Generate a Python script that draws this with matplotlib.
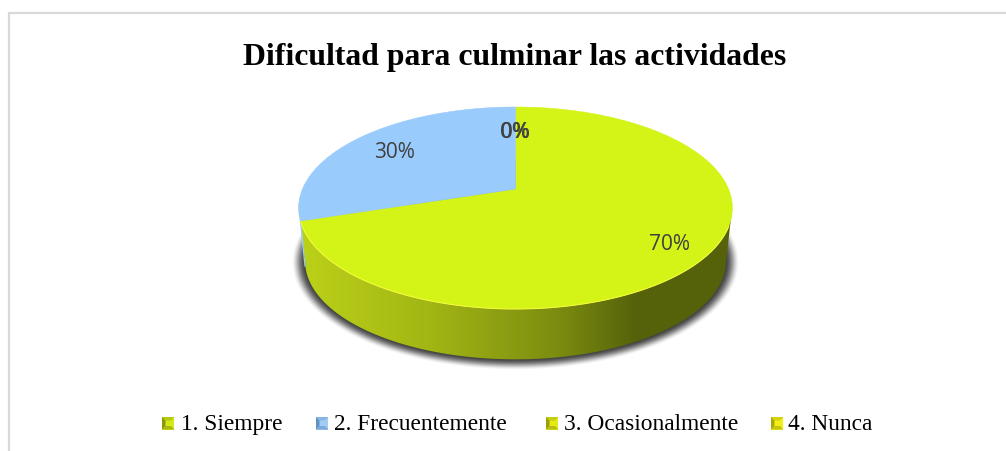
import numpy as np
import matplotlib
matplotlib.use("Agg")
import matplotlib.pyplot as plt
from matplotlib.patches import Polygon
from matplotlib.colors import LinearSegmentedColormap, to_rgb

# Data
categories = ["1. Siempre", "2. Frecuentemente", "3. Ocasionalmente", "4. Nunca"]
values = [70, 30, 0, 0]
slice_colors = ["#d4f317", "#99cbfc", "#d4f317", "#e6f010"]
label_texts = ["70%", "30%", "0%", "0%"]
swatch_colors = [("#d4ea18", "#8a980e"), ("#a4cdf6", "#5f93c4"),
                 ("#e4ea14", "#9aa00a"), ("#f0f014", "#a8a808")]

W, H = 1006, 451
CX, CY = 515.5, 189
R, RY, K = 213, 97.4, 0.188
DEPTH, SCALE = 54, 0.97


def project(theta, r=1.0):
    # theta in radians, clockwise from the top of the pie
    u = r * np.sin(theta)
    v = -r * np.cos(theta)
    w = 1 - K * v
    return CX + R * u / w, CY + RY * v / w


fig = plt.figure(figsize=(W / 100, H / 100), dpi=100)
ax = fig.add_axes([0, 0, 1, 1])
ax.set_xlim(0, W)
ax.set_ylim(H, 0)
ax.axis("off")

# chart frame (only left and top show)
ax.plot([9, 9, W], [H, 12.5, 12.5], color="#d9d9d9", lw=1.6, solid_joinstyle="miter")

tt = np.linspace(0, 2 * np.pi, 361)
top_x, top_y = project(tt)
low_x = CX + SCALE * (top_x - CX)
low_y = CY + DEPTH + SCALE * (top_y - CY)

# soft shadow under the pie
for grow, a in zip(np.linspace(13, 0, 26), np.linspace(0.01, 0.16, 26)):
    sx = CX + (low_x - CX) * (1 + grow / 211)
    sy = low_y + (low_y - (CY + DEPTH + 10)) * grow / 135
    ax.add_patch(Polygon(np.c_[sx, sy], closed=True, fc="#303030", ec="none", alpha=a, zorder=1))

# side wall with the horizontal gradient
lower = (tt > np.radians(90)) & (tt < np.radians(270))
wall_pts = [(CX - 217, 205), (CX - SCALE * 217, 262)]
wall_pts += list(zip(low_x[lower][::-1], low_y[lower][::-1]))
wall_pts += [(CX + SCALE * 217, 262), (CX + 217, 205)]
wall = Polygon(np.array(wall_pts), closed=True, fc="none", ec="none")
ax.add_patch(wall)
wall_cmap = LinearSegmentedColormap.from_list(
    "wall", [(0, "#bcd218"), (0.3, "#a2b614"), (0.6, "#7c8c10"), (0.78, "#56620a"), (1, "#56620a")])
im = ax.imshow(np.linspace(0, 1, 256)[None, :], extent=[CX - 217, CX + 217, H, 0], cmap=wall_cmap,
               aspect="auto", zorder=2, vmin=0, vmax=1)
im.set_clip_path(wall)
ax.set_xlim(0, W)
ax.set_ylim(H, 0)

# thin blue sliver of the 30% slice on the left of the wall
ax.plot([300.5, 305], [221, 266], color="#99cbfc", lw=0.9, zorder=2.5)

# top slices, angles taken from the values
total = sum(values)
start = 0.0
for val, col in zip(values, slice_colors):
    if val == 0:
        continue
    ang = np.linspace(start, start + 2 * np.pi * val / total, 200)
    xs, ys = project(ang)
    ax.add_patch(Polygon(np.c_[np.r_[CX, xs], np.r_[CY, ys]], closed=True, fc=col, ec=col, lw=0.4, zorder=3))
    start += 2 * np.pi * val / total

# thin light rim along the front edge
front = (tt > np.radians(110)) & (tt < np.radians(252))
ax.plot(top_x[front], top_y[front], color="#f2fa3c", lw=0.8, zorder=4)

# data labels; the two 0% sit on top of each other
label_xy = [(670, 244), (394.5, 153), (515, 132), (515.3, 132)]
for txt, (lx, ly) in zip(label_texts, label_xy):
    ax.text(lx, ly, txt, ha="center", va="center", fontsize=15, color="#404040",
            family="Open Sans", zorder=5)

# title
ax.text(515, 58, "Dificultad para culminar las actividades", ha="center", va="center",
        fontsize=22.9, fontweight="bold", family="Liberation Serif", color="black")

# legend with bevelled swatches
swatch_x = [162, 316, 546, 771]
text_x = [181, 334, 564, 788]
for sx, tx, name, (hi, lo) in zip(swatch_x, text_x, categories, swatch_colors):
    s = 12.5
    y0 = 417
    hi_rgb, lo_rgb = np.array(to_rgb(hi)), np.array(to_rgb(lo))
    a, b = 0.28 * s, 0.72 * s
    ax.add_patch(Polygon([(sx, y0), (sx + s, y0), (sx + s, y0 + s), (sx, y0 + s)], fc=hi, ec="none"))
    ax.add_patch(Polygon([(sx, y0), (sx + s, y0), (sx + b, y0 + a), (sx + a, y0 + a)],
                         fc=0.6 * hi_rgb + 0.4 * lo_rgb, ec="none"))
    ax.add_patch(Polygon([(sx, y0), (sx + a, y0 + a), (sx + a, y0 + b), (sx, y0 + s)], fc=lo, ec="none"))
    ax.add_patch(Polygon([(sx, y0 + s), (sx + a, y0 + b), (sx + b, y0 + b), (sx + s, y0 + s)],
                         fc=0.4 * hi_rgb + 0.6 * lo_rgb, ec="none"))
    ax.text(tx, 430, name, ha="left", va="baseline", fontsize=16.8, family="Liberation Serif", color="black")

fig.savefig("out.png", dpi=100)
